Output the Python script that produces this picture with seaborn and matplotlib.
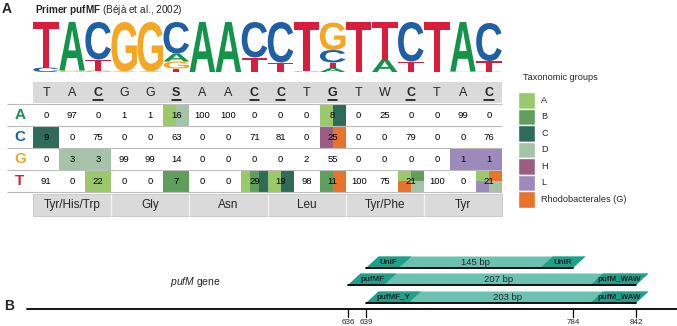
import numpy as np
import pandas as pd
import matplotlib
matplotlib.use("Agg")
import matplotlib.pyplot as plt
import seaborn as sns
from matplotlib.colors import ListedColormap
from matplotlib.patches import PathPatch, Rectangle, Polygon
from matplotlib.textpath import TextPath
from matplotlib.font_manager import FontProperties
from matplotlib.transforms import Affine2D

sns.set_theme(style="white")
plt.rcParams["font.family"] = ["Liberation Sans", "DejaVu Sans"]
plt.rcParams["mathtext.fontset"] = "custom"
plt.rcParams["mathtext.rm"] = "Liberation Sans"
plt.rcParams["mathtext.it"] = "Liberation Sans:italic"
plt.rcParams["mathtext.bf"] = "Liberation Sans:bold"

# ---- data -------------------------------------------------------------
bases = ["A", "C", "G", "T"]
base_colors = {"A": "#13944a", "C": "#1f5fa6", "G": "#f5a623", "T": "#d81e3c"}
consensus = ["T", "A", "C", "G", "G", "S", "A", "A", "C", "C",
             "T", "G", "T", "W", "C", "T", "A", "C"]
underlined = [2, 5, 8, 9, 11, 14, 17]
pct_A = [0, 97, 0, 1, 1, 16, 100, 100, 0, 0, 0, 8, 0, 25, 0, 0, 99, 0]
pct_C = [9, 0, 75, 0, 0, 63, 0, 0, 71, 81, 0, 25, 0, 0, 79, 0, 0, 76]
pct_G = [0, 3, 3, 99, 99, 14, 0, 0, 0, 0, 2, 55, 0, 0, 0, 0, 1, 1]
pct_T = [91, 0, 22, 0, 0, 7, 0, 0, 29, 19, 98, 11, 100, 75, 21, 100, 0, 21]
amino_acids = ["Tyr/His/Trp", "Gly", "Asn", "Leu", "Tyr/Phe", "Tyr"]

groups = ["A", "B", "C", "D", "H", "L", "Rhodobacterales (G)"]
group_colors = ["#9cc86c", "#5f9f5b", "#2e6b59", "#a5c4a7",
                "#9b5e82", "#9b8aba", "#e8742c"]
# taxonomic groups carrying each mismatch (2x2 layout when 4 groups)
cell_groups = {
    ("A", 5): ["A", "D"], ("A", 11): ["A", "C"],
    ("C", 0): ["C"], ("C", 11): ["H", "Rhodobacterales (G)"],
    ("G", 1): ["D"], ("G", 2): ["D"], ("G", 16): ["L"], ("G", 17): ["L"],
    ("T", 2): ["A"], ("T", 5): ["B"], ("T", 8): ["A", "B", "C"],
    ("T", 9): ["A", "C"], ("T", 11): ["B", "Rhodobacterales (G)"],
    ("T", 14): ["A", "B", "Rhodobacterales (G)", "D"],
    ("T", 17): ["A", "Rhodobacterales (G)", "L", "D"],
}

amplicons = [("UniF", "UniR", 639, 784, "145 bp"),
             ("pufMF", "pufM_WAW", 636, 842, "207 bp"),
             ("pufMF_Y", "pufM_WAW", 639, 842, "203 bp")]
tick_bp = [636, 639, 784, 842]

pct = pd.DataFrame([pct_A, pct_C, pct_G, pct_T], index=bases)

# ---- figure -----------------------------------------------------------
W, H = 677, 326
fig = plt.figure(figsize=(W / 100, H / 100), dpi=100)


def px_axes(x0, y0, x1, y1):
    return fig.add_axes([x0 / W, 1 - y1 / H, (x1 - x0) / W, (y1 - y0) / H])


ax = px_axes(0, 0, W, H)
ax.set_xlim(0, W)
ax.set_ylim(H, 0)
ax.set_axis_off()

# panel A header
ax.text(2, 9, "A", fontsize=10, fontweight="bold", va="center")
ax.text(35, 10, r"$\bf{Primer\ pufMF}$ (Béjà et al., 2002)", fontsize=7.2, va="center")

# sequence logo
axl = px_axes(33, 22, 502, 72)
axl.set_xlim(0, 18)
axl.set_ylim(0, 100)
axl.set_axis_off()
fp = FontProperties(family="Liberation Sans", weight="bold")
for j in range(18):
    col = sorted(((pct.loc[b, j], b) for b in bases if pct.loc[b, j] > 0))
    y = 0
    for f, b in col:
        tp = TextPath((0, 0), b, size=1, prop=fp)
        bb = tp.get_extents()
        tr = (Affine2D().translate(-bb.x0, -bb.y0)
              .scale(0.98 / bb.width, f / bb.height).translate(j + 0.01, y))
        axl.add_patch(PathPatch(tr.transform_path(tp), fc=base_colors[b], lw=0))
        y += f

# table
axt = px_axes(33, 104, 502, 192)
codes = pd.DataFrame(0, index=bases, columns=range(18))
for (b, j), g in cell_groups.items():
    if len(g) == 1:
        codes.loc[b, j] = groups.index(g[0]) + 1
cmap = ListedColormap(["white"] + group_colors)
sns.heatmap(codes, ax=axt, cmap=cmap, vmin=-0.5, vmax=len(groups) + 0.5,
            annot=pct, fmt="d", cbar=False, xticklabels=False, yticklabels=False,
            annot_kws={"fontsize": 6.8, "color": "black"})
for (b, j), g in cell_groups.items():
    i = bases.index(b)
    if len(g) == 4:
        for k, gg in enumerate(g):
            axt.add_patch(Rectangle((j + 0.5 * (k % 2), i + 0.5 * (k // 2)), 0.5, 0.5,
                                    fc=group_colors[groups.index(gg)], lw=0, zorder=1.5))
    elif len(g) > 1:
        w = 1 / len(g)
        for k, gg in enumerate(g):
            axt.add_patch(Rectangle((j + k * w, i), w, 1,
                                    fc=group_colors[groups.index(gg)], lw=0, zorder=1.5))
axt.set_xlim(0, 18)
axt.set_ylim(4, 0)
axt.hlines(range(5), -1, 18, colors="#bcbcbc", lw=0.8, clip_on=False, zorder=4)
for i, b in enumerate(bases):
    axt.text(-0.5, i + 0.5, b, color=base_colors[b], fontsize=11,
             fontweight="bold", ha="center", va="center")

# consensus row
axt.add_patch(Rectangle((0, -1.0), 18, 0.95, fc="#dadada", lw=0, clip_on=False))
for j, c in enumerate(consensus):
    bold = j in underlined
    axt.text(j + 0.5, -0.52, c, fontsize=9, ha="center", va="center",
             fontweight="bold" if bold else "normal")
    if bold:
        axt.plot([j + 0.32, j + 0.68], [-0.19, -0.19], color="black", lw=1.1,
                 clip_on=False)

# amino acid row
axt.add_patch(Rectangle((0, 4.09), 18, 1.0, fc="#dadada", ec="#c4c4c4", lw=0.6,
                        clip_on=False))
for k, aa in enumerate(amino_acids):
    axt.text(3 * k + 1.5, 4.6, aa, fontsize=8.5, ha="center", va="center")
axt.vlines([3, 6, 9, 12, 15], 4.09, 5.09, colors="#f2f2f2", lw=1.0, clip_on=False)

# legend
ax.text(523, 78, "Taxonomic groups", fontsize=6.6, va="center")
sw = 16.5
centers = 92 + sw * (np.arange(len(groups)) + 0.5)
ax.barh(centers, 17, left=518, height=sw, color=group_colors)
for yc, g in zip(centers, groups):
    ax.text(541, yc, g, fontsize=6.6, va="center")

# panel B
light, dark = "#6cc2b2", "#1ea08b"
ax.text(4, 306, "B", fontsize=10, fontweight="bold", va="center")
ax.text(170, 282, r"$\it{pufM}$ gene", fontsize=7.5, va="center")


def bp_x(bp):
    # schematic (not to scale) placement of the gene coordinates
    return np.interp(bp, tick_bp, [348, 366, 573, 636])


line_y = 309
ax.plot([27, W], [line_y, line_y], color="black", lw=1.3)
for t in tick_bp:
    ax.plot([bp_x(t)] * 2, [line_y, line_y + 8], color="black", lw=0.9)
    ax.text(bp_x(t), line_y + 14, str(t), fontsize=5.8, ha="center", va="center")

bh, sh = 11.5, 12.5
for (fwd, rev, start, end, size), yb in zip(amplicons, [268, 285, 303]):
    x0, x1 = bp_x(start), bp_x(end)
    ax.add_patch(Polygon([(x0, yb), (x1, yb), (x1 + sh, yb - bh), (x0 + sh, yb - bh)],
                         fc=light, lw=0))
    wf, wr = 20 + 3.2 * len(fwd), 20 + 3.2 * len(rev)
    ax.add_patch(Polygon([(x0, yb), (x0 + wf, yb), (x0 + wf + sh, yb - bh),
                          (x0 + sh, yb - bh)], fc=dark, lw=0))
    ax.add_patch(Polygon([(x1 - wr, yb), (x1, yb), (x1 + sh, yb - bh),
                          (x1 - wr + sh, yb - bh)], fc=dark, lw=0))
    ax.plot([x0, x1], [yb, yb], color="black", lw=1.3)
    ax.text(x0 + wf / 2 + sh / 2, yb - bh / 2, fwd, fontsize=5.8, fontweight="bold",
            ha="center", va="center")
    ax.text(x1 - wr / 2 + sh / 2, yb - bh / 2, rev, fontsize=5.8, fontweight="bold",
            ha="center", va="center")
    ax.text((x0 + x1) / 2 + sh / 2, yb - bh / 2, size, fontsize=6.8,
            ha="center", va="center")

fig.savefig("out.png", dpi=100)
